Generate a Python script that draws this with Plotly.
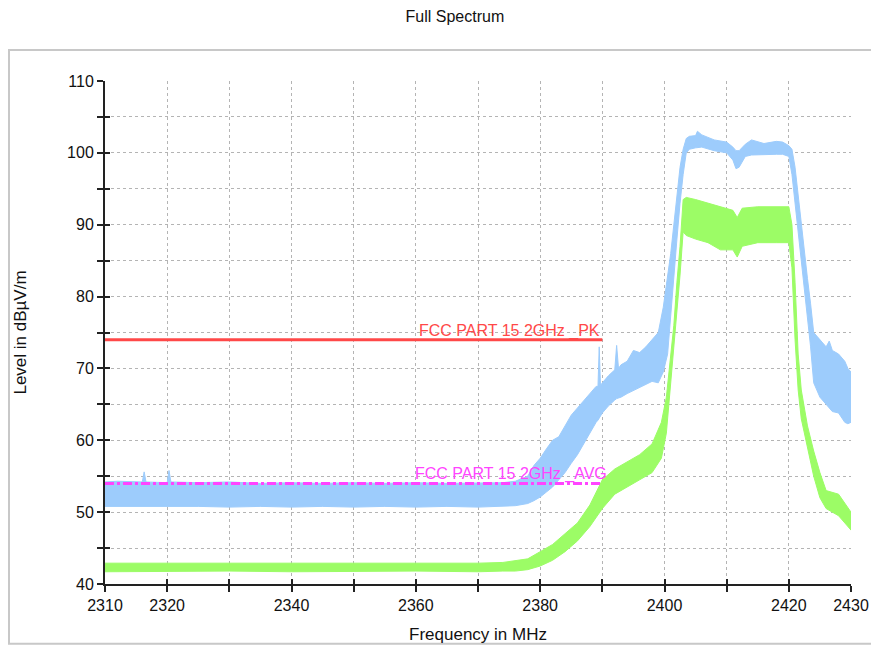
import plotly.graph_objects as go

# ---- data ----
pk_freq = [2310, 2312, 2316, 2316.3, 2316.6, 2320, 2320.3, 2320.6, 2325, 2330, 2335, 2340, 2345, 2350,
           2355, 2360, 2365, 2370, 2374, 2376, 2378, 2379, 2380, 2381, 2382, 2383, 2384, 2385, 2386, 2387,
           2388, 2389, 2389.3, 2389.5, 2389.7, 2390, 2391, 2392, 2392.3, 2392.6, 2393, 2394, 2395, 2396,
           2397, 2398, 2399, 2399.8, 2400.5, 2401, 2401.5, 2402, 2402.5, 2403, 2403.5, 2404, 2405, 2405.3,
           2406, 2408, 2410, 2411, 2411.5, 2412, 2413, 2414, 2416, 2418, 2419, 2420, 2420.5, 2421, 2421.5,
           2422, 2422.5, 2423, 2423.5, 2424, 2424.5, 2425, 2426, 2426.5, 2427, 2428, 2429, 2429.5, 2430]
pk_hi = [54.2, 54.3, 54.2, 55.6, 54.2, 54.1, 55.8, 54.2, 54.1, 54.2, 54.0, 54.1, 54.0, 54.1,
         54.0, 54.1, 54.0, 54.0, 54.1, 54.3, 55.0, 56.5, 57.5, 58.8, 60.0, 60.5, 62.0, 63.5, 64.5, 65.5,
         66.5, 67.5, 67.5, 73.0, 67.6, 68.0, 69.0, 69.8, 73.2, 70.0, 70.5, 71.0, 72.5, 72.2,
         73.0, 74.0, 75.0, 78.5, 83.0, 86.0, 90.0, 94.0, 98.0, 100.5, 102.0, 102.3, 102.4, 103.0,
         102.5, 101.8, 101.5, 100.8, 100.3, 100.3, 101.2, 101.8, 101.3, 101.6, 101.5, 101.0, 100.5, 98.0, 94.0,
         90.0, 86.0, 82.5, 79.0, 75.0, 74.5, 74.0, 73.0, 73.8, 72.5, 72.0, 71.0, 70.0, 69.5]
pk_lo = [50.8, 50.7, 50.8, 50.8, 50.8, 50.8, 50.8, 50.8, 50.8, 50.7, 50.8, 50.7, 50.8, 50.7,
         50.8, 50.7, 50.8, 50.7, 50.8, 50.9, 51.2, 51.6, 52.1, 52.8, 53.5, 54.5, 55.5, 56.8, 58.0, 59.5,
         61.0, 62.5, 62.8, 63.0, 63.3, 63.8, 64.8, 65.6, 65.8, 65.9, 66.0, 66.5, 67.0, 67.4,
         67.8, 68.2, 68.0, 69.5, 72.0, 78.0, 83.0, 88.0, 93.0, 97.0, 100.0, 100.5, 100.7, 100.8,
         100.8, 100.3, 100.0, 99.0, 97.8, 98.0, 99.5, 99.7, 99.8, 99.8, 99.8, 99.5, 97.0, 93.0, 89.0,
         85.0, 81.0, 77.0, 73.0, 68.0, 67.0, 66.0, 65.0, 64.5, 64.0, 63.8, 62.5, 62.3, 62.5]

av_freq = [2310, 2320, 2330, 2340, 2350, 2360, 2370, 2374, 2376, 2378, 2380, 2382, 2384, 2386, 2388,
           2390, 2392, 2394, 2396, 2398, 2399.5, 2400.3, 2401, 2401.5, 2402, 2402.5, 2403, 2403.5, 2405,
           2407, 2409, 2411, 2411.7, 2412.5, 2415, 2418, 2420, 2420.5, 2421, 2421.5, 2422, 2423, 2424,
           2425, 2426, 2428, 2430]
av_hi = [42.9, 42.9, 42.8, 42.9, 42.8, 42.9, 42.9, 43.0, 43.2, 43.5, 44.5, 45.5, 47.0, 48.5, 51.0,
         54.5, 56.0, 57.0, 58.0, 59.5, 62.5, 66.0, 72.0, 76.0, 82.0, 87.0, 93.5, 93.8, 93.5,
         93.0, 92.5, 92.0, 91.0, 92.3, 92.5, 92.5, 92.5, 90.0, 82.0, 72.0, 67.0, 62.0, 58.5,
         55.5, 53.0, 52.5, 50.0]
av_lo = [41.7, 41.7, 41.8, 41.7, 41.7, 41.8, 41.7, 41.8, 41.8, 42.0, 42.5, 43.3, 44.5, 46.0, 48.0,
         50.5, 52.5, 53.5, 54.5, 55.5, 57.5, 61.0, 67.0, 72.0, 78.0, 83.0, 89.0, 88.5, 88.0,
         87.5, 86.5, 86.5, 85.5, 87.0, 87.5, 87.5, 87.5, 84.0, 74.0, 67.0, 63.0, 59.0, 55.0,
         52.0, 50.5, 49.5, 47.5]

limit_freq = [2310, 2390]
limit_pk = [74, 74]
limit_av = [54, 54]
limit_pk_label = "FCC PART 15 2GHz _PK"
limit_av_label = "FCC PART 15 2GHz _AVG"

x_ticks = [2310, 2320, 2330, 2340, 2350, 2360, 2370, 2380, 2390, 2400, 2410, 2420, 2430]
x_labels = ["2310", "2320", "", "2340", "", "2360", "", "2380", "", "2400", "", "2420", "2430"]
y_ticks = [40, 45, 50, 55, 60, 65, 70, 75, 80, 85, 90, 95, 100, 105, 110]
y_labels = ["40", "", "50", "", "60", "", "70", "", "80", "", "90", "", "100", "", "110"]

FONT = "Liberation Sans, Arial, sans-serif"
BLUE = "#9dccfc"
GREEN = "#9cfc66"

fig = go.Figure()

fig.add_trace(go.Scatter(x=pk_freq + pk_freq[::-1], y=pk_hi + pk_lo[::-1], fill="toself",
                         fillcolor=BLUE, mode="lines", line=dict(color=BLUE, width=1),
                         hoverinfo="skip", showlegend=False))
fig.add_trace(go.Scatter(x=av_freq + av_freq[::-1], y=av_hi + av_lo[::-1], fill="toself",
                         fillcolor=GREEN, mode="lines", line=dict(color=GREEN, width=1),
                         hoverinfo="skip", showlegend=False))
fig.add_trace(go.Scatter(x=limit_freq, y=limit_pk, mode="lines",
                         line=dict(color="#ff4848", width=3), showlegend=False))
fig.add_trace(go.Scatter(x=limit_freq, y=limit_av, mode="lines",
                         line=dict(color="#ff44ff", width=3, dash="dashdot"), showlegend=False))
# invisible trace for the inward tick overlay axes
fig.add_trace(go.Scatter(x=[2310], y=[40], xaxis="x2", yaxis="y2", mode="markers",
                         marker=dict(opacity=0), hoverinfo="skip", showlegend=False))

fig.add_annotation(x=2375, y=74, text=limit_pk_label, showarrow=False, yanchor="bottom",
                   yshift=-2, font=dict(family=FONT, size=16, color="#ff4848"))
fig.add_annotation(x=2375.3, y=54, text=limit_av_label, showarrow=False, yanchor="bottom",
                   yshift=-2, font=dict(family=FONT, size=16, color="#ff44ff"))

axis_common = dict(showline=True, linecolor="#222222", linewidth=2, tickcolor="#222222",
                   tickwidth=2, zeroline=False, automargin=False,
                   tickfont=dict(family=FONT, size=16, color="#111"))

# page body has an 8px margin, so the figure is 8px smaller and margins shifted
fig.update_layout(
    width=871, height=638,
    margin=dict(l=97, r=28, t=73, b=62),
    paper_bgcolor="white", plot_bgcolor="white",
    title=dict(text="Full Spectrum", x=0.469, xref="paper", y=0.9875, yref="container",
               xanchor="center", yanchor="middle", font=dict(family=FONT, size=16, color="#111")),
    xaxis=dict(range=[2310, 2430], tickmode="array", tickvals=x_ticks, ticktext=x_labels,
               ticks="outside", ticklen=6, showgrid=True, gridcolor="#b4b4b4", griddash="dot",
               gridwidth=1,
               title=dict(text="Frequency in MHz", standoff=15, font=dict(family=FONT, size=17, color="#111")),
               **axis_common),
    yaxis=dict(range=[40, 110], tickmode="array", tickvals=y_ticks, ticktext=y_labels,
               ticks="outside", ticklen=6, showgrid=True, gridcolor="#b4b4b4", griddash="dot",
               gridwidth=1,
               title=dict(text="Level in dBµV/m", standoff=36, font=dict(family=FONT, size=17, color="#111")),
               **axis_common),
    xaxis2=dict(range=[2310, 2430], overlaying="x", anchor="y", side="bottom", tickmode="array",
                tickvals=x_ticks, ticks="inside", ticklen=5, tickwidth=2, tickcolor="#222222",
                showticklabels=False, showgrid=False, zeroline=False, showline=False, automargin=False),
    yaxis2=dict(range=[40, 110], overlaying="y", anchor="x", side="left", tickmode="array",
                tickvals=y_ticks, ticks="inside", ticklen=5, tickwidth=2, tickcolor="#222222",
                showticklabels=False, showgrid=False, zeroline=False, showline=False, automargin=False),
    showlegend=False,
)

# light grey outer frame
fig.add_shape(type="rect", xref="paper", yref="paper", x0=-0.1287, x1=1.0335, y0=-0.1190, y1=1.0616,
              line=dict(color="#c8c8c8", width=2), fillcolor="rgba(0,0,0,0)", layer="below")

fig.write_html("out.html")
